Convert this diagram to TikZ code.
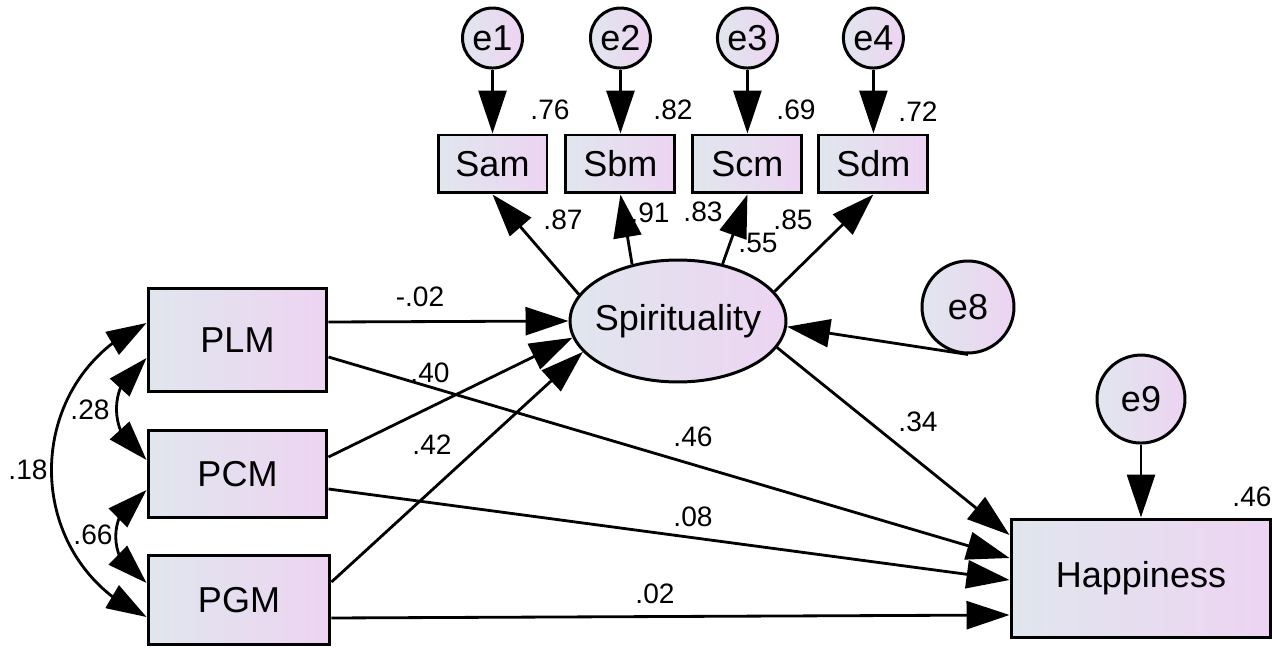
\documentclass[tikz,border=0pt]{standalone}
\usepackage{fontspec}
\setmainfont{Liberation Sans}
\usetikzlibrary{arrows.meta,bending,positioning,shapes.geometric}
\definecolor{boxleft}{RGB}{224,230,237}
\definecolor{boxright}{RGB}{237,212,242}
\tikzset{
  font=\fontsize{20.5}{24}\selectfont,
  obs/.style={
    draw,
    line width=1.7pt,
    left color=boxleft,
    right color=boxright,
    inner sep=0pt
  },
  item/.style={
    obs,
    minimum width=2.18cm,
    minimum height=1.16cm
  },
  pred/.style={
    obs,
    minimum width=3.58cm
  },
  latent/.style={
    obs,
    ellipse,
    inner xsep=-0.3cm,
    minimum width=4.32cm,
    minimum height=2.44cm
  },
  err/.style={
    obs,
    circle,
    minimum size=1.2cm
  },
  coef/.style={
    font=\fontsize{16}{19}\selectfont,
    inner sep=0pt
  },
  arrow/.style={-{Triangle[length=0.86cm,width=0.56cm]}, line width=1.6pt},
  corr/.style={{Triangle[length=0.8cm,width=0.52cm,flex]}-{Triangle[length=0.8cm,width=0.52cm,flex]}, line width=1.6pt}
}

\begin{document}
\begin{tikzpicture}[x=0.02cm, y=-0.02cm]
\useasboundingbox (0,0) rectangle (1272,648);

% --- measurement part ---
\node[item] (sam) at (492.5,164) {Sam};
\node[item, right=0.32cm of sam] (sbm) {Sbm};
\node[item, right=0.3cm of sbm] (scm) {Scm};
\node[item, right=0.28cm of scm] (sdm) {Sdm};

\node[err, above=1.28cm of sam] (e1) {e1};
\node[err, above=1.28cm of sbm] (e2) {e2};
\node[err, above=1.28cm of scm] (e3) {e3};
\node[err, above=1.28cm of sdm] (e4) {e4};

\node[latent] (spi) at (678,321) {Spirituality};
\node[err, minimum size=1.84cm] (e8) at (968,307) {e8};

% --- predictors and outcome ---
\node[pred, minimum height=2.08cm] (plm) at (237.5,340) {PLM};
\node[pred, minimum height=1.76cm] (pcm) at (237.5,474) {PCM};
\node[pred, minimum width=3.64cm, minimum height=1.8cm] (pgm) at (239,600) {PGM};

\node[obs, minimum width=5.2cm, minimum height=2.38cm] (hap) at (1141,578.5) {Happiness};
\node[err, minimum size=1.76cm, above=1.46cm of hap] (e9) {e9};

% error terms
\draw[arrow] (e1) -- (sam);
\draw[arrow] (e2) -- (sbm);
\draw[arrow] (e3) -- (scm);
\draw[arrow] (e4) -- (sdm);
\draw[arrow] (e8.south) -- (spi.357);
\draw[arrow] (e9) -- (hap);

% loadings
\draw[arrow] (spi.165) -- (sam.south);
\draw[arrow] (spi.129) -- (sbm.south);
\draw[arrow] (spi.52) -- (scm.south);
\draw[arrow] (spi.17) -- (sdm.south);

% structural paths
\draw[arrow] ([yshift=0.36cm]plm.east) -- (spi.west);
\draw[arrow] ([yshift=-0.34cm]plm.east) -- ([yshift=0.41cm]hap.west);
\draw[arrow] ([yshift=0.34cm]pcm.east) -- (spi.189);
\draw[arrow] ([yshift=-0.3cm]pcm.east) -- ([yshift=-0.03cm]hap.west);
\draw[arrow] ([yshift=0.36cm]pgm.east) -- (spi.198);
\draw[arrow] ([yshift=-0.36cm]pgm.east) -- ([yshift=-0.73cm]hap.west);
\draw[arrow] (spi.345) -- ([yshift=0.87cm]hap.west);

% covariances (near circular arcs)
\draw[corr] ([yshift=-0.36cm]plm.west) to[out=209, in=151, looseness=1.15] ([yshift=0.28cm]pcm.west);
\draw[corr] ([yshift=-0.32cm]pcm.west) to[out=203, in=157, looseness=1.23] ([yshift=0.34cm]pgm.west);
\draw[corr] ([yshift=0.34cm]plm.west) to[out=204, in=156, looseness=1.21] ([yshift=-0.34cm]pgm.west);

% --- estimates ---
\node[coef] (r1) at (550,110) {.76};
\node[coef] (r2) at (673,110) {.82};
\node[coef] (r3) at (796,110) {.69};
\node[coef] (r4) at (918,112) {.72};
\node[coef] (l1) at (563,220) {.87};
\node[coef] (l2) at (650,213) {.91};
\node[coef] (l3) at (703,212) {.83};
\node[coef] (l4) at (793,220) {.85};
\node[coef] (rs) at (758,243) {.55};
\node[coef] (rh) at (1252,497) {.46};
\node[coef] (p1) at (420,297) {-.02};
\node[coef] (p2) at (430,373) {.40};
\node[coef] (p3) at (432,445) {.42};
\node[coef] (p4) at (693,437) {.46};
\node[coef] (p5) at (693,517) {.08};
\node[coef] (p6) at (655,594) {.02};
\node[coef] (p7) at (918,422) {.34};
\node[coef] (c1) at (90,410) {.28};
\node[coef] (c2) at (93,535) {.66};
\node[coef] (c3) at (28,470) {.18};

\end{tikzpicture}
\end{document}
